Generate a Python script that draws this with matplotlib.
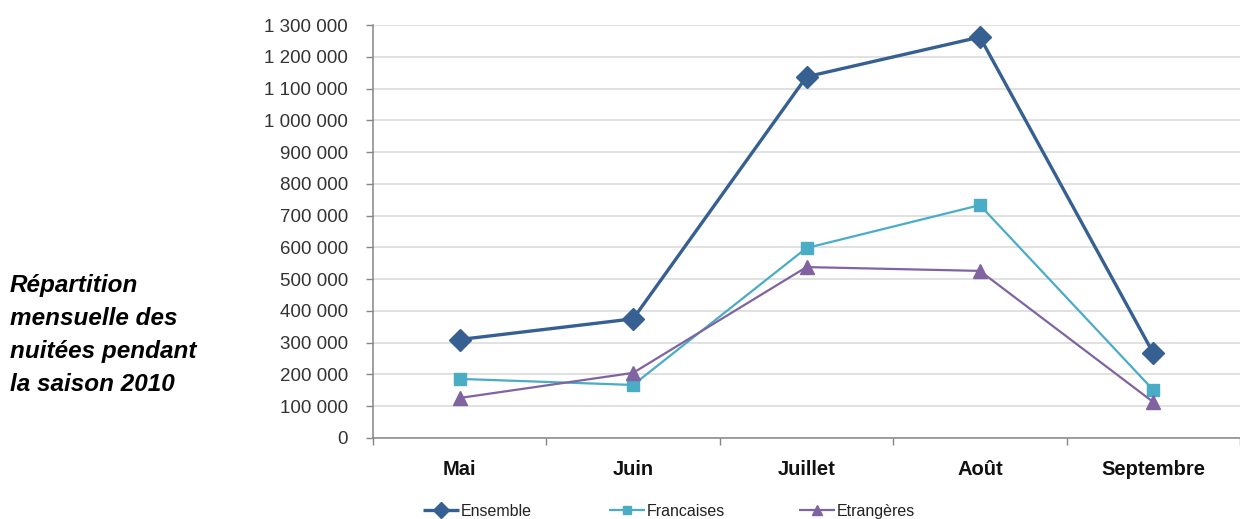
import matplotlib
matplotlib.use("Agg")
import matplotlib.pyplot as plt
from matplotlib.ticker import FuncFormatter, FixedLocator
from matplotlib.lines import Line2D

categories = ["Mai", "Juin", "Juillet", "Août", "Septembre"]
ensemble = [310000, 375000, 1137000, 1262000, 267000]
francaises = [186000, 167000, 598000, 733000, 151000]
etrangeres = [126000, 205000, 538000, 526000, 113000]
series_names = ["Ensemble", "Francaises", "Etrangères"]
title_text = "Répartition\nmensuelle des\nnuitées pendant\nla saison 2010"

plt.rcParams['font.family'] = ['Liberation Sans', 'DejaVu Sans']

W, H = 1240, 519
fig = plt.figure(figsize=(12.4, 5.19), dpi=100)
ax = fig.add_axes([373/W, 1-438/H, 1-373/W, (438-25)/H])

x = list(range(len(categories)))
c_ens, c_fr, c_et = "#376092", "#4BACC6", "#8064A2"
styles = [
    dict(color=c_ens, lw=2.4, marker="D", ms=11, mec=c_ens, mfc=c_ens),
    dict(color=c_fr, lw=1.6, marker="s", ms=8.5, mec=c_fr, mfc=c_fr),
    dict(color=c_et, lw=1.6, marker="^", ms=10, mec=c_et, mfc=c_et),
]
for vals, st, z in zip([ensemble, francaises, etrangeres], styles, [4, 3, 3]):
    ax.plot(x, vals, zorder=z, **st)

ax.set_xlim(-0.5, 4.5)
ax.set_ylim(0, 1300000)
ax.set_yticks(range(0, 1300001, 100000))
ax.yaxis.set_major_formatter(FuncFormatter(lambda v, p: f"{int(v):,}".replace(",", " ")))
ax.grid(axis="y", color="#D9D9D9", lw=1.1)
ax.set_axisbelow(True)

ax.xaxis.set_major_locator(FixedLocator([-0.5, 0.5, 1.5, 2.5, 3.5, 4.5]))
ax.xaxis.set_major_formatter(FuncFormatter(lambda v, p: ""))
ax.xaxis.set_minor_locator(FixedLocator(x))
ax.set_xticklabels(categories, minor=True)
ax.tick_params(axis="x", which="minor", length=0, pad=16, labelsize=14.5)
for lab in ax.get_xticklabels(minor=True):
    lab.set_fontweight("bold")
    lab.set_color("#111111")
ax.tick_params(axis="x", which="major", length=5, color="#868686", width=1)
ax.tick_params(axis="y", length=5, color="#868686", width=1, pad=13, labelsize=13.5, labelcolor="#333333")

for s in ["top", "right"]:
    ax.spines[s].set_visible(False)
for s in ["left", "bottom"]:
    ax.spines[s].set_color("#868686")
    ax.spines[s].set_linewidth(1.1)

fig.text(10/W, 1-335/H, title_text, fontsize=17.5, fontweight="bold", fontstyle="italic",
         va="center", ha="left", linespacing=1.55, color="#000000")

# manual legend for consistent baseline alignment
leg_x = [423, 609, 799]
leg_y = 1 - 510/H
for lx, name, st in zip(leg_x, series_names, styles):
    x0, x1 = lx/W, (lx + 36)/W
    fig.add_artist(Line2D([x0, x1], [leg_y, leg_y], transform=fig.transFigure,
                          color=st["color"], lw=st["lw"], solid_capstyle="butt"))
    fig.add_artist(Line2D([(x0 + x1)/2], [leg_y], transform=fig.transFigure,
                          linestyle="none", marker=st["marker"], ms=st["ms"]*0.72,
                          mfc=st["mfc"], mec=st["mec"]))
    fig.text(x1 + 2/W, leg_y, name, fontsize=11.5, va="center_baseline", ha="left", color="#222222")

fig.savefig("out.png", dpi=100, facecolor="white")
